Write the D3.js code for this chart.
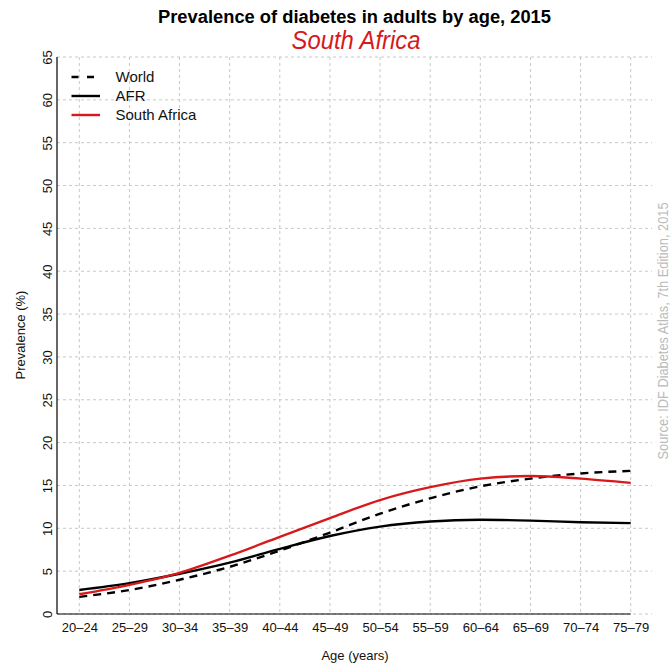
<!DOCTYPE html>
<html>
<head>
<meta charset="utf-8">
<script src="https://cdn.jsdelivr.net/npm/d3@7"></script>
<style>
  body { margin: 0; background: #fff; }
  text { font-family: "Liberation Sans", Arial, sans-serif; }
</style>
</head>
<body>
<div class="graph"></div>
<script>
"use strict";

var ages = ["20–24", "25–29", "30–34", "35–39", "40–44", "45–49",
            "50–54", "55–59", "60–64", "65–69", "70–74", "75–79"];
var world = [2.0, 2.8, 4.0, 5.5, 7.4, 9.5, 11.7, 13.5, 14.9, 15.8, 16.4, 16.7];
var afr = [2.8, 3.6, 4.7, 6.0, 7.6, 9.1, 10.2, 10.8, 11.0, 10.9, 10.7, 10.6];
var southAfrica = [2.3, 3.4, 4.8, 6.8, 9.0, 11.2, 13.3, 14.8, 15.8, 16.1, 15.8, 15.3];
var yTicks = d3.range(0, 66, 5);

var width = 672,
    height = 672;

var plotLeft = 57, plotRight = 652, plotTop = 57, plotBottom = 614;
var red = "#d7191c";

var series = [
    { name: "World", values: world, color: "#000", dash: "8,6" },
    { name: "AFR", values: afr, color: "#000", dash: null },
    { name: "South Africa", values: southAfrica, color: red, dash: null }
];

var x = d3.scalePoint()
    .domain(ages)
    .range([79.3, 630.7])

var y = d3.scaleLinear()
    .domain([0, 65])
    .range([plotBottom, plotTop])

var svg = d3.select('.graph').append('svg')
    .attr('width', width)
    .attr('height', height)

// grid
var grid = svg.append('g')
    .attr('stroke', '#c8c8c8')
    .attr('stroke-width', 1)
    .attr('stroke-dasharray', '3,3')

grid.selectAll('line.v')
    .data(ages)
    .enter().append('line')
    .attr('class', 'v')
    .attr('x1', function(d) { return x(d) })
    .attr('x2', function(d) { return x(d) })
    .attr('y1', y(65))
    .attr('y2', y(0))

grid.selectAll('line.h')
    .data(yTicks)
    .enter().append('line')
    .attr('class', 'h')
    .attr('x1', plotLeft)
    .attr('x2', plotRight)
    .attr('y1', function(d) { return y(d) })
    .attr('y2', function(d) { return y(d) })

// axes
var xAxis = d3.axisBottom(x).tickSize(0).tickPadding(9);
var yAxis = d3.axisLeft(y).tickValues(yTicks).tickSize(0).tickPadding(5);

var axisX = svg.append('g')
    .attr('transform', 'translate(0,' + plotBottom + ')')
    .call(xAxis)
axisX.select('.domain').remove();
axisX.append('line')
    .attr('x1', plotLeft).attr('x2', x(ages[ages.length - 1]))
    .attr('stroke', '#000').attr('stroke-width', 1.2)
axisX.selectAll('text')
    .attr('font-size', '13px')
    .attr('fill', '#111')

var axisY = svg.append('g')
    .attr('transform', 'translate(' + plotLeft + ',0)')
    .call(yAxis)
axisY.select('.domain').remove();
axisY.append('line')
    .attr('y1', y(0)).attr('y2', y(65))
    .attr('stroke', '#000').attr('stroke-width', 1.2)
axisY.selectAll('.tick text')
    .attr('font-size', '13px')
    .attr('fill', '#111')
    .attr('text-anchor', 'middle')
    .attr('x', null)
    .attr('dy', null)
    .attr('transform', 'translate(-5,0) rotate(-90)')

// lines
var line = d3.line()
    .curve(d3.curveMonotoneX)
    .x(function(d, i) { return x(ages[i]) })
    .y(function(d) { return y(d) })

svg.append('g').selectAll('path')
    .data(series)
    .enter().append('path')
    .attr('d', function(s) { return line(s.values) })
    .attr('fill', 'none')
    .attr('stroke', function(s) { return s.color })
    .attr('stroke-width', 2.4)
    .attr('stroke-dasharray', function(s) { return s.dash })

// legend
var legend = svg.append('g')
var rows = legend.selectAll('g')
    .data(series)
    .enter().append('g')
    .attr('transform', function(d, i) { return 'translate(0,' + (77 + i * 19) + ')' })
rows.append('line')
    .attr('x1', 71.5).attr('x2', 100)
    .attr('stroke', function(s) { return s.color })
    .attr('stroke-width', 2.4)
    .attr('stroke-dasharray', function(s) { return s.dash ? '7,8.5' : null })
rows.append('text')
    .attr('x', 115.5)
    .attr('dy', '0.35em')
    .attr('font-size', '15px')
    .attr('fill', '#111')
    .text(function(s) { return s.name })

// titles
svg.append('text')
    .attr('x', 354.5)
    .attr('y', 23)
    .attr('text-anchor', 'middle')
    .attr('font-size', '18px')
    .attr('font-weight', 'bold')
    .attr('textLength', 393)
    .attr('lengthAdjust', 'spacingAndGlyphs')
    .text('Prevalence of diabetes in adults by age, 2015')

svg.append('text')
    .attr('x', 356)
    .attr('y', 48.5)
    .attr('text-anchor', 'middle')
    .attr('font-size', '25px')
    .attr('font-style', 'italic')
    .attr('fill', red)
    .attr('textLength', 129)
    .attr('lengthAdjust', 'spacingAndGlyphs')
    .text('South Africa')

svg.append('text')
    .attr('x', 355)
    .attr('y', 660)
    .attr('text-anchor', 'middle')
    .attr('font-size', '13px')
    .attr('fill', '#111')
    .text('Age (years)')

svg.append('text')
    .attr('transform', 'translate(25,335) rotate(-90)')
    .attr('text-anchor', 'middle')
    .attr('font-size', '13px')
    .attr('fill', '#111')
    .text('Prevalence (%)')

svg.append('text')
    .attr('transform', 'translate(668,331) rotate(-90)')
    .attr('text-anchor', 'middle')
    .attr('font-size', '14px')
    .attr('fill', '#bbb')
    .attr('textLength', 257)
    .attr('lengthAdjust', 'spacingAndGlyphs')
    .text('Source: IDF Diabetes Atlas, 7th Edition, 2015')
</script>
</body>
</html>
